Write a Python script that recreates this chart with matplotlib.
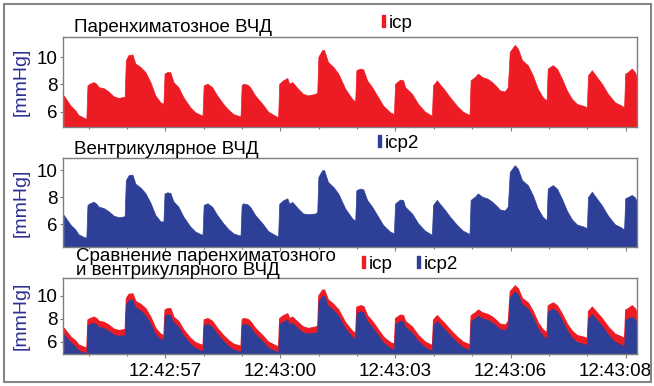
import matplotlib
matplotlib.use('Agg')
import matplotlib.pyplot as plt
import matplotlib.patches as mpatches
from matplotlib.transforms import ScaledTranslation
from matplotlib.ticker import FixedLocator, MultipleLocator, NullFormatter

plt.rcParams['font.family'] = ['Liberation Sans', 'DejaVu Sans']

RED = '#ed1c24'
BLUE = '#2e3f97'
LABEL_BLUE = '#2e3192'

# time in seconds after 12:42:00, pressures in mmHg
T = [54.35, 54.53, 54.66, 54.73, 54.86, 54.94, 54.97, 55.03, 55.13, 55.20,
     55.26, 55.39, 55.52, 55.65, 55.78, 55.88, 55.94, 55.97, 56.04, 56.14,
     56.22, 56.35, 56.48, 56.61, 56.74, 56.87, 56.95, 56.98, 57.05, 57.13,
     57.21, 57.34, 57.47, 57.65, 57.78, 57.91, 57.97, 58.00, 58.10, 58.22,
     58.35, 58.51, 58.64, 58.77, 58.90, 58.96, 58.99, 59.03, 59.14, 59.21,
     59.34, 59.53, 59.68, 59.86, 59.94, 59.97, 60.07, 60.18, 60.23, 60.31,
     60.46, 60.59, 60.72, 60.91, 60.96, 60.99, 61.09, 61.14, 61.24, 61.38,
     61.51, 61.69, 61.87, 61.95, 61.98, 62.08, 62.16, 62.26, 62.39, 62.52,
     62.68, 62.86, 62.96, 62.99, 63.12, 63.20, 63.25, 63.43, 63.59, 63.77,
     63.95, 63.98, 64.08, 64.16, 64.29, 64.42, 64.60, 64.76, 64.93, 64.96,
     65.07, 65.15, 65.26, 65.39, 65.52, 65.65, 65.72, 65.85, 65.93, 65.98,
     66.11, 66.19, 66.30, 66.45, 66.58, 66.71, 66.84, 66.94, 66.97, 67.10,
     67.21, 67.34, 67.47, 67.60, 67.73, 67.89, 67.99, 68.02, 68.12, 68.25,
     68.38, 68.54, 68.72, 68.90, 68.96, 68.99, 69.06, 69.16, 69.24, 69.29]

ICP = [7.19, 6.44, 6.07, 5.76, 5.58, 5.46, 7.93, 8.05, 8.17, 8.05,
       7.80, 7.73, 7.48, 7.13, 7.01, 7.06, 7.10, 9.78, 10.15, 10.20,
       9.53, 9.28, 8.91, 8.17, 7.19, 6.69, 6.57, 8.79, 8.91, 8.90,
       8.17, 7.80, 7.06, 6.32, 5.95, 5.78, 5.72, 7.93, 8.05, 7.80,
       7.19, 6.57, 6.15, 5.83, 5.70, 5.65, 7.93, 8.05, 7.98, 7.80,
       7.19, 6.57, 6.00, 5.70, 5.58, 8.05, 8.30, 8.47, 8.05, 8.17,
       7.68, 7.31, 7.19, 7.31, 7.40, 10.02, 10.52, 10.52, 9.65, 9.28,
       8.79, 7.68, 6.94, 6.75, 9.04, 9.16, 9.10, 8.30, 7.80, 7.19,
       6.44, 5.95, 5.83, 8.05, 8.35, 8.30, 7.80, 7.31, 6.57, 6.00,
       5.70, 7.93, 8.30, 8.00, 7.56, 7.06, 6.44, 6.00, 5.76, 8.30,
       8.54, 8.79, 8.54, 8.42, 8.17, 7.80, 7.56, 7.48, 7.80, 10.39,
       10.89, 10.64, 9.78, 9.41, 8.67, 7.68, 7.06, 6.81, 9.16, 9.41,
       9.16, 8.42, 7.56, 6.94, 6.57, 6.44, 6.32, 8.67, 9.04, 8.54,
       8.05, 7.31, 6.69, 6.44, 6.32, 8.79, 8.91, 9.16, 8.91, 8.54]

ICP2 = [6.69, 5.96, 5.59, 5.27, 5.08, 5.00, 7.43, 7.55, 7.67, 7.52,
        7.30, 7.20, 6.96, 6.64, 6.52, 6.56, 6.60, 9.26, 9.62, 9.68,
        9.00, 8.72, 8.30, 7.60, 6.69, 6.22, 6.20, 8.29, 8.36, 8.32,
        7.70, 7.30, 6.57, 5.83, 5.46, 5.28, 5.22, 7.43, 7.55, 7.30,
        6.69, 6.07, 5.65, 5.33, 5.20, 5.17, 7.43, 7.55, 7.48, 7.30,
        6.69, 6.07, 5.50, 5.20, 5.10, 7.52, 7.77, 7.92, 7.52, 7.65,
        7.16, 6.80, 6.74, 6.80, 6.90, 9.50, 10.00, 10.00, 9.13, 8.76,
        8.27, 7.16, 6.44, 6.25, 8.52, 8.64, 8.58, 7.80, 7.30, 6.69,
        5.94, 5.45, 5.33, 7.53, 7.83, 7.78, 7.30, 6.80, 6.07, 5.52,
        5.22, 7.43, 7.80, 7.50, 7.06, 6.56, 5.96, 5.52, 5.28, 7.80,
        8.04, 8.28, 8.04, 7.92, 7.67, 7.32, 7.10, 7.02, 7.32, 9.87,
        10.37, 10.12, 9.26, 8.90, 8.15, 7.16, 6.54, 6.30, 8.64, 8.90,
        8.64, 7.88, 7.00, 6.36, 5.98, 5.84, 5.72, 8.02, 8.40, 7.90,
        7.40, 6.64, 6.00, 5.74, 5.59, 7.92, 8.02, 8.16, 8.00, 7.70]

TITLES = ['Паренхиматозное ВЧД', 'Вентрикулярное ВЧД',
          'Сравнение паренхиматозного', 'и вентрикулярного ВЧД']
Y_TICKS = [6, 8, 10]
X_TICKS = [57, 60, 63, 66, 69]
X_TICK_LABELS = ['12:42:57', '12:43:00', '12:43:03', '12:43:06', '12:43:08']
X_LIM = (54.34, 69.29)


def style_axis(ax, ylim, show_x):
    ax.set_xlim(*X_LIM)
    ax.set_ylim(*ylim)
    for spine in ax.spines.values():
        spine.set_color('#7d7d7d')
        spine.set_linewidth(1.0)
    ax.yaxis.set_major_locator(FixedLocator(Y_TICKS))
    ax.tick_params(axis='y', direction='out', length=2.5, width=0.8,
                   color='#7d7d7d', pad=1.5, labelsize=13.5)
    ax.xaxis.set_major_locator(FixedLocator(X_TICKS))
    ax.xaxis.set_minor_locator(MultipleLocator(1))
    ax.tick_params(axis='x', which='both', direction='out', color='#7d7d7d',
                   width=0.8, labelsize=13.5, pad=3.5)
    ax.tick_params(axis='x', which='major', length=3)
    ax.tick_params(axis='x', which='minor', length=1.5)
    if show_x:
        ax.set_xticklabels(X_TICK_LABELS)
    else:
        ax.xaxis.set_major_formatter(NullFormatter())
    ax.set_ylabel('[mmHg]', color=LABEL_BLUE, fontsize=14)
    ax.yaxis.set_label_coords(-0.058, 0.5)


def add_legend(ax, fig, items, x, y):
    handles = [mpatches.Patch(color=c, label=l) for l, c in items]
    ax.legend(handles=handles, loc='center left', bbox_to_anchor=(x, y),
              bbox_transform=fig.transFigure, frameon=False, ncol=len(items),
              handlelength=0.16, handleheight=0.55, handletextpad=0.2,
              columnspacing=1.3, borderpad=0, borderaxespad=0, fontsize=13.5)


fig = plt.figure(figsize=(6.54, 3.86), dpi=100)
ax1 = fig.add_axes([0.0968, 0.6718, 0.8768, 0.2332])
ax2 = fig.add_axes([0.0968, 0.3609, 0.8768, 0.2290])
ax3 = fig.add_axes([0.0968, 0.0821, 0.8768, 0.1969])

ax1.fill_between(T, ICP, 0, color=RED, lw=0.5)
style_axis(ax1, (4.9, 11.5), False)
add_legend(ax1, fig, [('icp', RED)], 0.5836, 0.9404)

ax2.fill_between(T, ICP2, 0, color=BLUE, lw=0.5)
style_axis(ax2, (4.34, 10.88), False)
add_legend(ax2, fig, [('icp2', BLUE)], 0.578, 0.6295)

# overlay: parenchymal behind ventricular
ax3.fill_between(T, ICP, 0, color=RED, lw=0.8)
ax3.fill_between(T, ICP2, 0, color=BLUE, lw=0.3)
style_axis(ax3, (4.9, 11.5), True)
add_legend(ax3, fig, [('icp', RED), ('icp2', BLUE)], 0.5535, 0.316)

# last time label is pulled left so it stays inside the picture
last = ax3.get_xticklabels()[-1]
last.set_transform(last.get_transform() + ScaledTranslation(-0.1, 0, fig.dpi_scale_trans))

fig.text(0.1131, 0.9163, TITLES[0], fontsize=13.5, va='baseline')
fig.text(0.1131, 0.601, TITLES[1], fontsize=13.5, va='baseline')
fig.text(0.1162, 0.3245, TITLES[2], fontsize=13.5, va='baseline')
fig.text(0.1162, 0.2876, TITLES[3], fontsize=13.5, va='baseline')

# window frame round the whole picture
fig.add_artist(mpatches.Rectangle((4 / 654, 4 / 386), 647 / 654, 378 / 386,
                                  transform=fig.transFigure, fill=False,
                                  ec='#858585', lw=1.5))

fig.savefig('out.png', dpi=100)
